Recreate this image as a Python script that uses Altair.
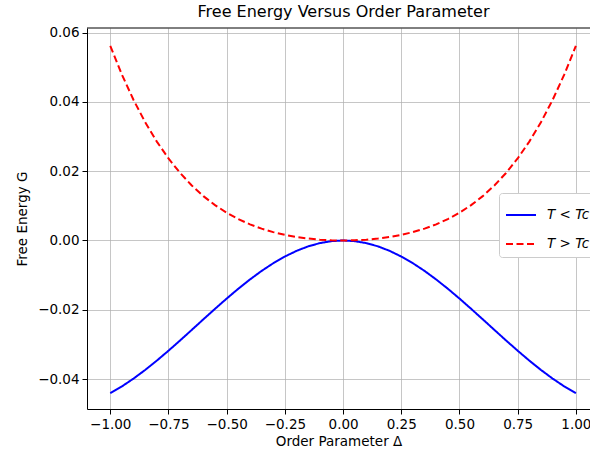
import altair as alt
import pandas as pd

# Order parameter values (x)
delta = [-1.00, -0.95, -0.90, -0.85, -0.80, -0.75, -0.70, -0.65, -0.60, -0.55,
         -0.50, -0.45, -0.40, -0.35, -0.30, -0.25, -0.20, -0.15, -0.10, -0.05,
         0.00, 0.05, 0.10, 0.15, 0.20, 0.25, 0.30, 0.35, 0.40, 0.45,
         0.50, 0.55, 0.60, 0.65, 0.70, 0.75, 0.80, 0.85, 0.90, 0.95, 1.00]

# T < Tc (blue, solid)
g_below = [-0.04411, -0.04213, -0.03987, -0.03738, -0.03468, -0.03183, -0.02886, -0.02582, -0.02276, -0.01973,
           -0.01677, -0.01393, -0.01126, -0.00879, -0.00657, -0.00463, -0.00300, -0.00170, -0.00076, -0.00019,
           0.00000, -0.00019, -0.00076, -0.00170, -0.00300, -0.00463, -0.00657, -0.00879, -0.01126, -0.01393,
           -0.01677, -0.01973, -0.02276, -0.02582, -0.02886, -0.03183, -0.03468, -0.03738, -0.03987, -0.04213, -0.04411]

# T > Tc (red, dashed)
g_above = [0.05620, 0.04789, 0.04057, 0.03415, 0.02855, 0.02369, 0.01949, 0.01589, 0.01281, 0.01021,
           0.00801, 0.00618, 0.00466, 0.00342, 0.00242, 0.00163, 0.00101, 0.00056, 0.00024, 0.00006,
           0.00000, 0.00006, 0.00024, 0.00056, 0.00101, 0.00163, 0.00242, 0.00342, 0.00466, 0.00618,
           0.00801, 0.01021, 0.01281, 0.01589, 0.01949, 0.02369, 0.02855, 0.03415, 0.04057, 0.04789, 0.05620]

series_names = ["T < Tc", "T > Tc"]
series_colors = ["blue", "red"]

x_ticks = [-1.0, -0.75, -0.5, -0.25, 0.0, 0.25, 0.5, 0.75, 1.0]
y_ticks = [-0.04, -0.02, 0.0, 0.02, 0.04, 0.06]

x_domain = [-1.1, 1.0607]
y_domain = [-0.04866, 0.06136]

rows = []
for x, a, b in zip(delta, g_below, g_above):
    rows.append({"delta": x, "G": a, "series": series_names[0]})
    rows.append({"delta": x, "G": b, "series": series_names[1]})
df = pd.DataFrame(rows)

FONT = "DejaVu Sans"

legend = alt.Legend(
    title=None, orient="none", legendX=412, legendY=165,
    symbolType="stroke", symbolSize=900, symbolStrokeWidth=2,
    labelFont=FONT, labelFontSize=13.5, labelFontStyle="italic", labelColor="black",
    fillColor="white", strokeColor="#cccccc", cornerRadius=3, padding=6,
    rowPadding=6, labelOffset=10,
)

xs = alt.Scale(domain=x_domain, nice=False, zero=False)
ys = alt.Scale(domain=y_domain, nice=False, zero=False)

lines = alt.Chart(df).mark_line(strokeWidth=2).encode(
    x=alt.X("delta:Q", scale=xs,
            axis=alt.Axis(values=x_ticks, format=".2f", title="Order Parameter Δ")),
    y=alt.Y("G:Q", scale=ys,
            axis=alt.Axis(values=y_ticks, format=".2f", title="Free Energy G")),
    color=alt.Color("series:N", scale=alt.Scale(domain=series_names, range=series_colors), legend=legend),
    strokeDash=alt.StrokeDash("series:N", scale=alt.Scale(domain=series_names, range=[[1, 0], [7, 3.5]]), legend=legend),
    order="delta:Q",
)

top = alt.Chart(pd.DataFrame({"G": [y_domain[1]]})).mark_rule(color="black", strokeWidth=1).encode(
    y=alt.Y("G:Q", scale=ys)
)

chart = alt.layer(lines, top).properties(
    width=503, height=381,
    title=alt.TitleParams("Free Energy Versus Order Parameter", font=FONT, fontSize=16,
                          fontWeight="normal", color="black", anchor="middle", offset=6, dx=5),
    autosize=alt.AutoSizeParams(type="none"),
    padding={"left": 87, "top": 28, "right": 0, "bottom": 49},
).configure_view(stroke=None).configure_axis(
    labelFont=FONT, labelFontSize=13.5, labelColor="black",
    titleFont=FONT, titleFontSize=13.5, titleFontWeight="normal", titleColor="black",
    domainColor="black", domainWidth=1, tickColor="black", tickSize=5, tickWidth=1,
    gridColor="#b0b0b0", gridWidth=0.8, gridOpacity=0.9, labelPadding=3,
).configure_axisY(titlePadding=8).configure_axisX(titlePadding=4)

chart.save("out.html", embed_options={"renderer": "svg", "actions": False})
